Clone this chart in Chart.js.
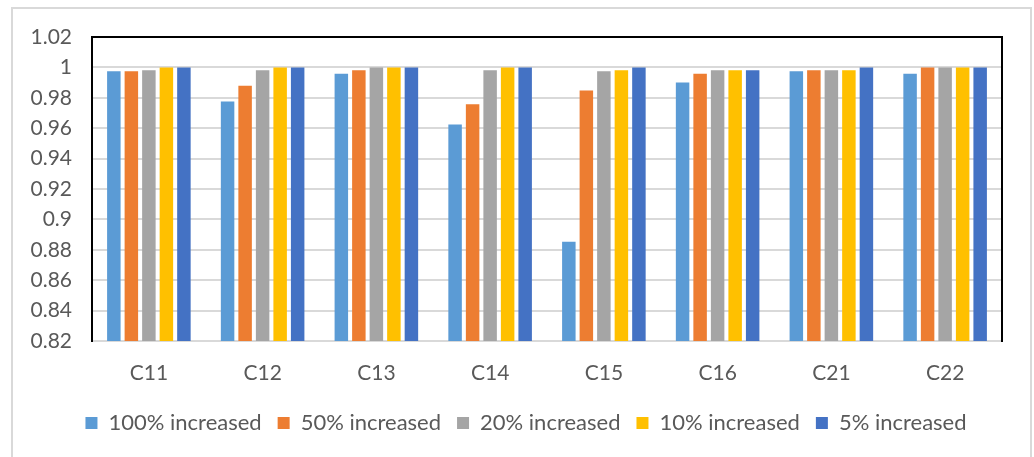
<!DOCTYPE html>
<html>
<head>
<meta charset="utf-8">
<script src="https://cdn.jsdelivr.net/npm/chart.js@4/dist/chart.umd.min.js"></script>
<style>
  html, body { margin: 0; padding: 0; background: #ffffff; }
  #wrap { position: relative; width: 1034px; height: 457px; }
</style>
</head>
<body>
<div id="wrap"><canvas id="chart" width="1034" height="457"></canvas></div>
<script>
// Case labels along the x axis
const categories = ['C11', 'C12', 'C13', 'C14', 'C15', 'C16', 'C21', 'C22'];

// Series names
const seriesNames = ['100% increased', '50% increased', '20% increased', '10% increased', '5% increased'];

// Values per series, one per case
const inc100 = [0.9974, 0.9776, 0.9958, 0.9624, 0.8853, 0.9901, 0.9974, 0.9958];
const inc50  = [0.9974, 0.9880, 0.9982, 0.9758, 0.9848, 0.9958, 0.9982, 1.0000];
const inc20  = [0.9982, 0.9982, 1.0000, 0.9982, 0.9974, 0.9982, 0.9982, 1.0000];
const inc10  = [1.0000, 1.0000, 1.0000, 1.0000, 0.9982, 0.9982, 0.9982, 1.0000];
const inc5   = [1.0000, 1.0000, 1.0000, 1.0000, 1.0000, 0.9982, 1.0000, 1.0000];

// Value axis
const yMin = 0.82;
const yMax = 1.02;
const yStep = 0.02;

const seriesValues = [inc100, inc50, inc20, inc10, inc5];
const seriesColors = ['#5B9BD5', '#ED7D31', '#A5A5A5', '#FFC000', '#4472C4'];

const textColor = '#595959';
const fontFamily = 'Lato, "Open Sans", sans-serif';

// Light outer frame around the whole figure
const outerFrame = {
  id: 'outerFrame',
  beforeDraw(chart) {
    const ctx = chart.ctx;
    ctx.save();
    ctx.fillStyle = '#ffffff';
    ctx.fillRect(0, 0, chart.width, chart.height);
    ctx.strokeStyle = '#d9d9d9';
    ctx.lineWidth = 2;
    ctx.strokeRect(12, 8, 1019, 470);
    ctx.restore();
  }
};

// Centre the legend row on the frame rather than on the plot
const legendShift = {
  id: 'legendShift',
  afterLayout(chart) {
    if (chart.legend) {
      chart.legend.left += 25;
      chart.legend.right += 25;
    }
  }
};

// Black box on the top, left and right sides of the plot area
const plotBox = {
  id: 'plotBox',
  afterDraw(chart) {
    const {left, right, top, bottom} = chart.chartArea;
    const ctx = chart.ctx;
    ctx.save();
    ctx.strokeStyle = '#000000';
    ctx.lineWidth = 2;
    ctx.beginPath();
    ctx.moveTo(left, bottom);
    ctx.lineTo(left, top);
    ctx.lineTo(right, top);
    ctx.lineTo(right, bottom + 1);
    ctx.stroke();
    ctx.restore();
  }
};

new Chart(document.getElementById('chart'), {
  type: 'bar',
  data: {
    labels: categories,
    datasets: seriesNames.map((name, i) => ({
      label: name,
      data: seriesValues[i],
      backgroundColor: seriesColors[i],
      borderWidth: 0,
      categoryPercentage: 0.77,
      barPercentage: 0.77
    }))
  },
  options: {
    responsive: false,
    animation: false,
    devicePixelRatio: 1,
    layout: { padding: { top: 37, right: 32, bottom: 13, left: 0 } },
    plugins: {
      tooltip: { enabled: false },
      legend: {
        position: 'bottom',
        labels: {
          color: textColor,
          font: { family: fontFamily, size: 22 },
          boxWidth: 12,
          boxHeight: 12,
          padding: 16
        }
      }
    },
    scales: {
      x: {
        grid: { display: false, drawTicks: false },
        border: { display: true, color: '#d9d9d9', width: 2 },
        ticks: {
          color: textColor,
          font: { family: fontFamily, size: 21 },
          padding: 20,
          maxRotation: 0
        },
        afterFit(scale) { scale.height = 55; }
      },
      y: {
        min: yMin,
        max: yMax,
        grid: { color: '#d9d9d9', lineWidth: 2, drawTicks: false },
        border: { display: true, color: '#000000', width: 2 },
        ticks: {
          stepSize: yStep,
          color: textColor,
          font: { family: fontFamily, size: 21 },
          padding: 20,
          callback: (v) => String(Number(v.toFixed(2)))
        },
        afterFit(scale) { scale.width = 92; }
      }
    }
  },
  plugins: [outerFrame, legendShift, plotBox]
});
</script>
</body>
</html>
